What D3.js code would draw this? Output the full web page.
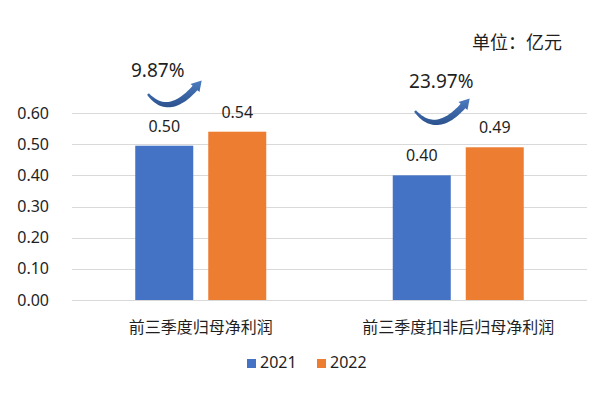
<!DOCTYPE html>
<html><head><meta charset="utf-8">
<script src="https://cdn.jsdelivr.net/npm/d3@7"></script>
<style>
body{margin:0;background:#fff;}
text{font-family:"Noto Sans","Noto Sans CJK SC",sans-serif;fill:#1f1f1f;}
</style></head>
<body><svg id="c" width="600" height="400"></svg>
<script>
const categories = ["前三季度归母净利润", "前三季度扣非后归母净利润"];
const seriesNames = ["2021", "2022"];
const values2021 = [0.495, 0.40];
const values2022 = [0.54, 0.49];
const labels2021 = ["0.50", "0.40"];
const labels2022 = ["0.54", "0.49"];
const growthLabels = ["9.87%", "23.97%"];
const yTicks = [0, 0.1, 0.2, 0.3, 0.4, 0.5, 0.6];
const unitText = "单位：亿元";
const colors = ["#4472C4", "#ED7D31"];

(function () {
const svg = d3.select("#c");
const mLeft = 72, mRight = 587, mTop = 113, mBottom = 300;

const x0 = d3.scaleBand().domain(categories).range([mLeft, mRight]).padding(0);
const half = 65.5;
const x1 = d3.scaleBand().domain(seriesNames)
  .range([x0.bandwidth()/2 - half, x0.bandwidth()/2 + half]).paddingInner(15/73).paddingOuter(0);
const y = d3.scaleLinear().domain([0, 0.6]).range([mBottom, mTop]);

// gridlines
svg.append("g").selectAll("line").data(yTicks).join("line")
  .attr("x1", mLeft).attr("x2", mRight)
  .attr("y1", d => Math.round(y(d)) + 0.5).attr("y2", d => Math.round(y(d)) + 0.5)
  .attr("stroke", "#d9d9d9").attr("stroke-width", 1);

// y axis labels
const yAxis = d3.axisLeft(y).tickValues(yTicks).tickFormat(d3.format(".2f")).tickSize(0).tickPadding(23);
const ga = svg.append("g").attr("transform", `translate(${mLeft},0)`).call(yAxis);
ga.select(".domain").remove();
ga.selectAll("text").attr("font-size", 16).attr("fill", "#1f1f1f")
  .attr("font-family", "'Noto Sans',sans-serif");

// bars
const rows = categories.map((c, i) => ({
  cat: c,
  items: [
    {s: seriesNames[0], v: values2021[i], l: labels2021[i], col: colors[0]},
    {s: seriesNames[1], v: values2022[i], l: labels2022[i], col: colors[1]}
  ]
}));
const g = svg.append("g").selectAll("g").data(rows).join("g")
  .attr("transform", d => `translate(${x0(d.cat)},0)`);
g.selectAll("rect").data(d => d.items).join("rect")
  .attr("x", d => x1(d.s)).attr("width", x1.bandwidth())
  .attr("y", d => y(d.v)).attr("height", d => y(0) - y(d.v))
  .attr("fill", d => d.col);
g.selectAll("text.v").data(d => d.items).join("text").attr("class", "v")
  .attr("x", d => x1(d.s) + x1.bandwidth()/2)
  .attr("y", d => y(d.v) - 14)
  .attr("text-anchor", "middle").attr("font-size", 16)
  .text(d => d.l);

// category labels
svg.append("g").selectAll("text").data(categories).join("text")
  .attr("x", d => x0(d) + x0.bandwidth()/2).attr("y", 333)
  .attr("text-anchor", "middle").attr("font-size", 16)
  .attr("font-family", "'Noto Sans CJK SC',sans-serif").attr("fill", "#262626")
  .text(d => d);

// legend
const lg = svg.append("g");
const legX = [247, 317];
seriesNames.forEach((s, i) => {
  lg.append("rect").attr("x", legX[i]).attr("y", 359).attr("width", 9).attr("height", 9).attr("fill", colors[i]);
  lg.append("text").attr("x", legX[i] + 13).attr("y", 368).attr("font-size", 16).text(s);
});

// unit
svg.append("text").attr("x", 562).attr("y", 49).attr("text-anchor", "end")
  .attr("font-size", 18).attr("font-family", "'Noto Sans CJK SC',sans-serif").text(unitText);

// growth arrows
const defs = svg.append("defs");
const grad = defs.append("linearGradient").attr("id", "ag").attr("x1", "0").attr("y1", "0").attr("x2", "0").attr("y2", "1");
grad.append("stop").attr("offset", "0%").attr("stop-color", "#4b7bbf");
grad.append("stop").attr("offset", "100%").attr("stop-color", "#2c528e");

const ann = [
  {T: [-52.75, 94], C: [-32.75, 118], B: [-5.75, 88], tx: -43, ty: 77},
  {T: [-43.25, 111], C: [-22.25, 136], B: [4.75, 106], tx: -17, ty: 88}
];
function arrowPath(T, C, B) {
  const n = 30, outer = [], inner = [];
  for (let k = 0; k <= n; k++) {
    const t = k / n;
    const px = (1-t)*(1-t)*T[0] + 2*(1-t)*t*C[0] + t*t*B[0];
    const py = (1-t)*(1-t)*T[1] + 2*(1-t)*t*C[1] + t*t*B[1];
    const dx = 2*(1-t)*(C[0]-T[0]) + 2*t*(B[0]-C[0]);
    const dy = 2*(1-t)*(C[1]-T[1]) + 2*t*(B[1]-C[1]);
    const len = Math.hypot(dx, dy);
    const nx = -dy/len, ny = dx/len;
    const w = 1.2 + 2.0 * Math.sin(Math.PI * Math.min(t, 0.85) / 1.7);
    outer.push([px + nx*w, py + ny*w]);
    inner.push([px - nx*w, py - ny*w]);
  }
  const dx = B[0]-C[0], dy = B[1]-C[1], len = Math.hypot(dx, dy);
  const ux = dx/len, uy = dy/len, nx = -uy, ny = ux;
  const hw = 6, hl = 10;
  const tip = [B[0] + ux*hl, B[1] + uy*hl];
  let p = "M" + outer.map(q => q.join(",")).join("L");
  p += `L${B[0]+nx*hw},${B[1]+ny*hw}L${tip[0]},${tip[1]}L${B[0]-nx*hw},${B[1]-ny*hw}`;
  p += "L" + inner.reverse().map(q => q.join(",")).join("L") + "Z";
  return p;
}
categories.forEach((c, i) => {
  const cx = x0(c) + x0.bandwidth()/2;
  const a = ann[i];
  const T = [cx + a.T[0], a.T[1]], C = [cx + a.C[0], a.C[1]], B = [cx + a.B[0], a.B[1]];
  svg.append("path").attr("d", arrowPath(T, C, B)).attr("fill", "url(#ag)");
  svg.append("text").attr("x", cx + a.tx).attr("y", a.ty).attr("text-anchor", "middle")
    .attr("font-size", 19).text(growthLabels[i]);
});
})();
</script></body></html>
